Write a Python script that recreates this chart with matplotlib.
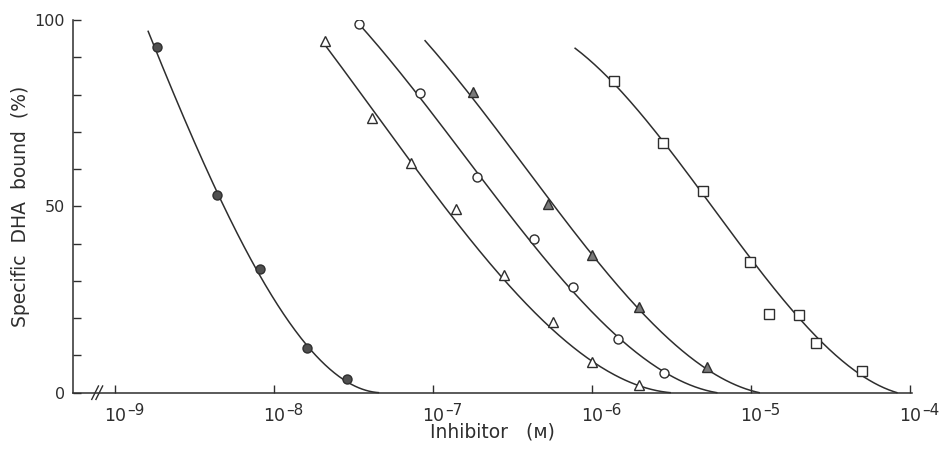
import numpy as np
import matplotlib
matplotlib.use("Agg")
import matplotlib.pyplot as plt

# measured points: inhibitor concentration (M) vs specific DHA bound (%)
filled_circle_x = [1.82e-9, 4.34e-9, 8.1e-9, 1.6e-8, 2.85e-8]
filled_circle_y = [92.7, 53.0, 33.1, 12.1, 3.7]

open_tri_x = [2.08e-8, 4.09e-8, 7.24e-8, 1.39e-7, 2.80e-7, 5.64e-7, 9.93e-7, 1.97e-6]
open_tri_y = [94.4, 73.6, 61.6, 49.3, 31.6, 18.9, 8.3, 2.1]

open_circle_x = [3.40e-8, 8.24e-8, 1.87e-7, 4.31e-7, 7.53e-7, 1.46e-6, 2.83e-6]
open_circle_y = [98.9, 80.3, 58.0, 41.2, 28.3, 14.4, 5.4]

filled_tri_x = [1.77e-7, 5.25e-7, 9.93e-7, 1.98e-6, 5.26e-6]
filled_tri_y = [80.8, 50.5, 36.9, 23.1, 7.0]

square_x = [1.37e-6, 2.80e-6, 4.95e-6, 9.84e-6, 1.30e-5, 2.01e-5, 2.56e-5, 4.97e-5]
square_y = [83.6, 67.1, 54.2, 35.0, 21.0, 20.8, 13.4, 5.8]

# hand-drawn curves, positions (log10 of conc, %)
curve_a_lx = [-8.794, -8.751, -8.594, -8.458, -8.359, -8.217, -8.111, -7.965, -7.797, -7.566, -7.346]
curve_a_y = [96.9, 93.3, 78.5, 64.2, 52.6, 40.1, 32.0, 22.2, 13.3, 5.2, 0]
curve_b_lx = [-7.682, -7.524, -7.356, -7.230, -7.104, -6.916, -6.560, -6.245, -5.993, -5.699, -5.510]
curve_b_y = [93.3, 84.8, 75.9, 66.9, 58.9, 49.0, 30.2, 16.8, 8.3, 2.5, 0]
curve_c_lx = [-7.468, -7.356, -7.189, -7.084, -6.895, -6.727, -6.580, -6.454, -6.140, -5.825, -5.531, -5.217]
curve_c_y = [98.9, 93.7, 86.6, 80.3, 68.7, 58.0, 49.9, 43.7, 28.4, 15.0, 5.6, 0]
curve_d_lx = [-7.052, -6.895, -6.748, -6.580, -6.412, -6.276, -6.014, -5.720, -5.447, -5.279, -4.950]
curve_d_y = [94.4, 87.5, 80.8, 70.5, 58.9, 50.4, 36.9, 23.5, 12.3, 7.0, 0]
curve_e_lx = [-6.108, -5.867, -5.699, -5.553, -5.301, -5.153, -5.007, -4.839, -4.692, -4.483, -4.304, -4.084]
curve_e_y = [92.4, 83.5, 75.9, 66.9, 53.9, 44.5, 34.7, 25.8, 20.4, 11.5, 5.6, 0]

x_ticks = [1e-9, 1e-8, 1e-7, 1e-6, 1e-5, 1e-4]
x_tick_exps = ["\u20139", "\u20138", "\u20137", "\u20136", "\u20135", "\u20134"]

ink = "#2e2e2e"
plt.rcParams["font.family"] = ["DejaVu Sans"]


def smooth_curve(lx, y):
    # the curves were drawn freehand through the points; a weighted cubic in
    # log10(x) gives the same smooth shape and keeps the ends where they are
    lx = np.asarray(lx)
    w = np.ones(len(lx))
    w[0] = w[-1] = 6.0
    c = np.polyfit(lx, y, 3, w=w)
    xs = np.linspace(lx[0], lx[-1], 200)
    return 10 ** xs, np.clip(np.polyval(c, xs), 0, None)


fig = plt.figure(figsize=(9.43, 4.58), dpi=100)
ax = fig.add_axes([73.3 / 943, 65.3 / 458, 838.5 / 943, 372.7 / 458])
ax.set_xscale("log")
ax.set_xlim(10 ** -9.265, 10 ** -3.99)
ax.set_ylim(0, 100)

for lx, yy in [(curve_a_lx, curve_a_y), (curve_b_lx, curve_b_y), (curve_c_lx, curve_c_y),
               (curve_d_lx, curve_d_y), (curve_e_lx, curve_e_y)]:
    cx, cy = smooth_curve(lx, yy)
    ax.plot(cx, cy, color=ink, lw=1.1, zorder=2, clip_on=False)

ax.plot(filled_circle_x, filled_circle_y, "o", ms=6.5, mfc="#505050", mec=ink, mew=1.0, ls="none", zorder=3)
ax.plot(open_tri_x, open_tri_y, "^", ms=7.5, mfc="white", mec=ink, mew=1.0, ls="none", zorder=3)
ax.plot(open_circle_x, open_circle_y, "o", ms=6.5, mfc="white", mec=ink, mew=1.0, ls="none", zorder=3)
ax.plot(filled_tri_x, filled_tri_y, "^", ms=7.5, mfc="#7a7a7a", mec=ink, mew=1.0, ls="none", zorder=3)
ax.plot(square_x, square_y, "s", ms=6.5, mfc="white", mec=ink, mew=1.0, ls="none", zorder=3)

for s in ["top", "right"]:
    ax.spines[s].set_visible(False)
for s in ["left", "bottom"]:
    ax.spines[s].set_color(ink)
    ax.spines[s].set_linewidth(1.1)

# decade ticks; labels written as "10" plus a raised exponent, like the original
ax.set_xticks(x_ticks)
ax.set_xticklabels([""] * len(x_ticks))
ax.xaxis.set_minor_locator(matplotlib.ticker.NullLocator())
for t, e in zip(x_ticks, x_tick_exps):
    ax.annotate("10", xy=(t, 0), xycoords=("data", "axes fraction"), xytext=(0, -20.4),
                textcoords="offset points", ha="center", va="baseline", fontsize=12.5, color=ink)
    ax.annotate(e, xy=(t, 0), xycoords=("data", "axes fraction"), xytext=(8.8, -16.0),
                textcoords="offset points", ha="left", va="baseline", fontsize=11, color=ink)

ax.set_yticks(np.arange(0, 101, 10))
ax.set_yticklabels(["0", "", "", "", "", "50", "", "", "", "", "100"])
ax.tick_params(axis="both", direction="in", length=6, width=1.0, color=ink,
               labelcolor=ink, labelsize=11.5)
ax.tick_params(axis="y", pad=6)

# axis break marks
for xf in [0.026, 0.031]:
    ax.plot([xf - 0.004, xf + 0.004], [-0.018, 0.018], color=ink, lw=1.0,
            transform=ax.transAxes, clip_on=False)

ax.set_xlabel("Inhibitor   (\u1d0d)", fontsize=13.5, color=ink, labelpad=18)
ax.set_ylabel("Specific  DHA  bound  (%)", fontsize=13.5, color=ink, labelpad=3)

fig.savefig("out.png", dpi=100)
